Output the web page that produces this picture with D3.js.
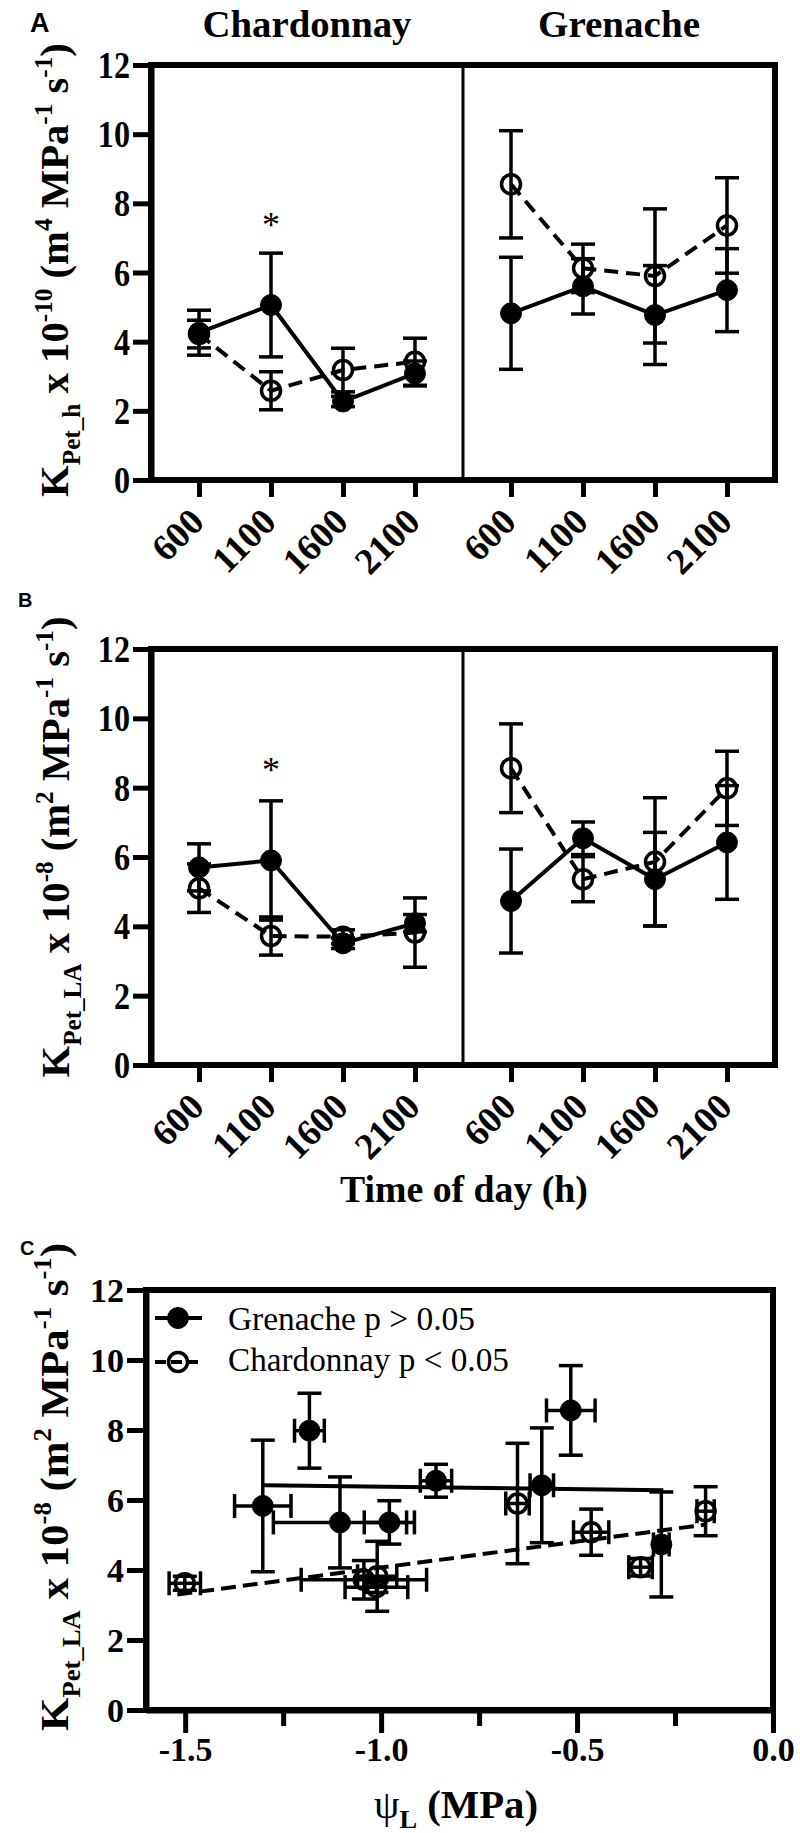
<!DOCTYPE html>
<html><head><meta charset="utf-8">
<script src="https://cdn.jsdelivr.net/npm/d3@7"></script>
<style>body{margin:0;background:#fff} svg{display:block}</style>
</head><body>
<svg id="chart" width="800" height="1833"></svg>
<script>
// ---------------- DATA ----------------
const times = ["600", "1100", "1600", "2100"];
const cultivars = ["Chardonnay", "Grenache"];
const yTickValues = [0, 2, 4, 6, 8, 10, 12];
const psiMajorTicks = [-1.5, -1.0, -0.5, 0.0];
const psiMinorTicks = [-1.25, -0.75, -0.25];

// Panel A : K_Pet_h x 1e-10
const aChardFilled = [4.26, 5.06, 2.27, 3.08];
const aChardFilledErr = [0.65, 1.5, 0.15, 0.36];
const aChardOpen = [4.22, 2.58, 3.18, 3.42];
const aChardOpenErr = [0.4, 0.55, 0.63, 0.68];
const aGrenFilled = [4.82, 5.6, 4.77, 5.49];
const aGrenFilledErr = [1.62, 0.8, 1.43, 1.2];
const aGrenOpen = [8.55, 6.12, 5.9, 7.36];
const aGrenOpenErr = [1.55, 0.7, 1.94, 1.38];

// Panel B : K_Pet_LA x 1e-8
const bChardFilled = [5.7, 5.9, 3.51, 4.09];
const bChardFilledErr = [0.68, 1.72, 0.15, 0.25];
const bChardOpen = [5.1, 3.72, 3.7, 3.82];
const bChardOpenErr = [0.7, 0.55, 0.2, 1.0];
const bGrenFilled = [4.73, 6.54, 5.36, 6.42];
const bGrenFilledErr = [1.5, 0.47, 1.35, 1.64];
const bGrenOpen = [8.56, 5.36, 5.86, 7.98];
const bGrenOpenErr = [1.28, 0.65, 1.85, 1.07];

// significance markers (cultivar, time, value)
const starA = ["Chardonnay", "1100", 7.52];
const starB = ["Chardonnay", "1100", 8.65];

// Panel C : K_Pet_LA vs leaf water potential
const cGrenPsi = [-1.183, -1.302, -1.105, -0.979, -0.86, -0.59, -0.516, -0.285];
const cGrenPsiErr = [0.038, 0.072, 0.17, 0.064, 0.04, 0.03, 0.062, 0.02];
const cGrenK = [7.98, 5.83, 5.36, 5.36, 6.55, 6.42, 8.56, 4.73];
const cGrenKErr = [1.07, 1.88, 1.3, 0.62, 0.47, 1.64, 1.28, 1.5];
const cChardPsi = [-1.501, -1.044, -1.01, -1.012, -0.652, -0.464, -0.338, -0.172];
const cChardPsiErr = [0.04, 0.16, 0.05, 0.08, 0.03, 0.045, 0.03, 0.022];
const cChardK = [3.62, 3.72, 3.82, 3.51, 5.9, 5.08, 4.08, 5.68];
const cChardKErr = [0.2, 0.55, 1.0, 0.15, 1.72, 0.66, 0.25, 0.7];
// regression lines
const grenFitPsi = [-1.30, -0.28];
const grenFitK = [6.42, 6.28];
const chardFitPsi = [-1.52, -0.17];
const chardFitK = [3.3, 5.3];
const legendLabels = ["Grenache p > 0.05", "Chardonnay p < 0.05"];

// ---------------- DRAWING ----------------
const SERIF = '"Liberation Serif","Times New Roman",serif';
const SANS = '"Liberation Sans",Arial,sans-serif';
const svg = d3.select('#chart');
svg.append('rect').attr('width', 800).attr('height', 1833).attr('fill', '#fff');

const L = 151, MID = 463, R = 775;
const LW = 4, EBW = 3.5, CAP = 12, RAD = 10.5;

function richText(g, parts, size) {
  const t = g.append('text').attr('font-family', SERIF).attr('font-weight', 'bold')
    .attr('font-size', size).attr('text-anchor', 'middle').attr('fill', '#000');
  let shift = 0;
  parts.forEach(p => {
    const target = p.sub ? size * 0.3 : p.sup ? -size * 0.42 : 0;
    const ts = t.append('tspan').text(p.t).attr('dy', target - shift);
    if (p.sub || p.sup) ts.attr('font-size', size * 0.62);
    shift = target;
  });
  return t;
}
function verticalLabel(g, parts, size, bx, cy, len) {
  const t = richText(g, parts, size);
  const n = t.node().getComputedTextLength();
  t.attr('transform', `translate(${bx},${cy}) rotate(-90) scale(${len / n},1)`);
}
function fitText(g, str, x, y, size, width, opts = {}) {
  const t = g.append('text').text(str).attr('font-family', opts.family || SERIF)
    .attr('font-weight', opts.weight || 'bold').attr('font-size', size)
    .attr('text-anchor', 'middle').attr('fill', '#000');
  const n = t.node().getComputedTextLength();
  t.attr('transform', `translate(${x},${y}) scale(${width / n},1)`);
  return t;
}

const labelLA = [{t: 'K'}, {t: 'Pet_h', sub: 1}, {t: ' x 10'}, {t: '-10', sup: 1}, {t: ' (m'}, {t: '4', sup: 1},
  {t: ' MPa'}, {t: '-1', sup: 1}, {t: ' s'}, {t: '-1', sup: 1}, {t: ')'}];
const labelLB = [{t: 'K'}, {t: 'Pet_LA', sub: 1}, {t: ' x 10'}, {t: '-8', sup: 1}, {t: ' (m'}, {t: '2', sup: 1},
  {t: ' MPa'}, {t: '-1', sup: 1}, {t: ' s'}, {t: '-1', sup: 1}, {t: ')'}];

function errV(g, x, y, v, e) {
  g.append('line').attr('x1', x).attr('x2', x).attr('y1', y(v - e)).attr('y2', y(v + e))
    .attr('stroke', '#000').attr('stroke-width', EBW);
  [v - e, v + e].forEach(w => g.append('line').attr('x1', x - CAP).attr('x2', x + CAP)
    .attr('y1', y(w)).attr('y2', y(w)).attr('stroke', '#000').attr('stroke-width', EBW));
}
function errH(g, xs, yy, v, e) {
  g.append('line').attr('x1', xs(v - e)).attr('x2', xs(v + e)).attr('y1', yy).attr('y2', yy)
    .attr('stroke', '#000').attr('stroke-width', EBW);
  [v - e, v + e].forEach(w => g.append('line').attr('x1', xs(w)).attr('x2', xs(w))
    .attr('y1', yy - CAP).attr('y2', yy + CAP).attr('stroke', '#000').attr('stroke-width', EBW));
}
function dot(g, x, y, filled) {
  g.append('circle').attr('cx', x).attr('cy', y).attr('r', filled ? RAD : 9.5)
    .attr('fill', filled ? '#000' : 'none').attr('stroke', '#000').attr('stroke-width', filled ? 1 : 3.5);
}

function timePanel(cfg) {
  const g = svg.append('g');
  const y = d3.scaleLinear().domain([0, 12]).range([cfg.bottom, cfg.top]);
  const xs = {};
  xs.Chardonnay = d3.scalePoint().domain(times).range([L, MID]).padding(0.667);
  xs.Grenache = d3.scalePoint().domain(times).range([MID, R]).padding(0.667);

  g.append('rect').attr('x', L).attr('y', cfg.top).attr('width', R - L).attr('height', cfg.bottom - cfg.top)
    .attr('fill', 'none').attr('stroke', '#000').attr('stroke-width', 6);
  g.append('line').attr('x1', MID).attr('x2', MID).attr('y1', cfg.top).attr('y2', cfg.bottom)
    .attr('stroke', '#000').attr('stroke-width', 3);

  const ya = g.append('g').attr('transform', `translate(${L},0)`)
    .call(d3.axisLeft(y).tickValues(yTickValues).tickSize(18).tickSizeOuter(0).tickFormat(d3.format('d')));
  ya.select('.domain').attr('stroke-width', 6);
  ya.selectAll('.tick line').attr('stroke-width', 5);
  ya.selectAll('.tick text').attr('font-family', SERIF).attr('font-weight', 'bold').attr('font-size', 37)
    .attr('fill', '#000').attr('x', -21 / 0.87).attr('dy', '0.34em').attr('transform', 'scale(0.87,1)');

  cultivars.forEach(c => {
    const xa = g.append('g').attr('transform', `translate(0,${cfg.bottom})`)
      .call(d3.axisBottom(xs[c]).tickSize(17).tickSizeOuter(0));
    xa.select('.domain').remove();
    xa.selectAll('.tick line').attr('stroke-width', 5);
    xa.selectAll('.tick text').remove();
    times.forEach(t => {
      g.append('text').text(t).attr('font-family', SERIF).attr('font-weight', 'bold').attr('font-size', 37)
        .attr('text-anchor', 'end').attr('fill', '#000')
        .attr('transform', `translate(${xs[c](t) + 7},${cfg.bottom + 44}) rotate(-45)`);
    });
  });

  cultivars.forEach(c => {
    const x = xs[c];
    const d = cfg.data[c];
    const lineGen = d3.line().x((v, i) => x(times[i])).y(v => y(v));
    d.open.forEach((v, i) => errV(g, x(times[i]), y, v, d.openErr[i]));
    d.filled.forEach((v, i) => errV(g, x(times[i]), y, v, d.filledErr[i]));
    g.append('path').attr('d', lineGen(d.open)).attr('fill', 'none').attr('stroke', '#000')
      .attr('stroke-width', LW).attr('stroke-dasharray', '14,8');
    g.append('path').attr('d', lineGen(d.filled)).attr('fill', 'none').attr('stroke', '#000')
      .attr('stroke-width', LW);
    d.open.forEach((v, i) => dot(g, x(times[i]), y(v), false));
    d.filled.forEach((v, i) => dot(g, x(times[i]), y(v), true));
  });

  const st = cfg.star;
  g.append('text').text('*').attr('x', xs[st[0]](st[1])).attr('y', y(st[2]) + 17)
    .attr('text-anchor', 'middle').attr('font-family', SERIF).attr('font-size', 36).attr('fill', '#000');

  verticalLabel(g, cfg.ylabel, 39, cfg.labelX, cfg.labelCY, cfg.labelLen);
  g.append('text').text(cfg.letter).attr('x', cfg.letterX).attr('y', cfg.letterY)
    .attr('font-family', SANS).attr('font-weight', 'bold').attr('font-size', cfg.letterSize).attr('fill', '#000');
}

timePanel({
  top: 65, bottom: 480, star: starA, ylabel: labelLA, labelX: 68, labelCY: 270, labelLen: 454,
  letter: 'A', letterX: 30, letterY: 32, letterSize: 27,
  data: {
    Chardonnay: {filled: aChardFilled, filledErr: aChardFilledErr, open: aChardOpen, openErr: aChardOpenErr},
    Grenache: {filled: aGrenFilled, filledErr: aGrenFilledErr, open: aGrenOpen, openErr: aGrenOpenErr}
  }
});
timePanel({
  top: 649, bottom: 1065, star: starB, ylabel: labelLB, labelX: 69, labelCY: 847, labelLen: 461,
  letter: 'B', letterX: 18, letterY: 607, letterSize: 20,
  data: {
    Chardonnay: {filled: bChardFilled, filledErr: bChardFilledErr, open: bChardOpen, openErr: bChardOpenErr},
    Grenache: {filled: bGrenFilled, filledErr: bGrenFilledErr, open: bGrenOpen, openErr: bGrenOpenErr}
  }
});

// titles
fitText(svg, cultivars[0], (L + MID) / 2, 37, 37, 209);
fitText(svg, cultivars[1], (MID + R) / 2, 37, 37, 162);
fitText(svg, 'Time of day (h)', 464, 1202, 37, 248);

// ---------------- PANEL C ----------------
(function () {
  const g = svg.append('g');
  const CL = 146, CR = 773, CT = 1290, CB = 1710;
  const x = d3.scaleLinear().domain([-1.6, 0]).range([CL, CR]);
  const y = d3.scaleLinear().domain([0, 12]).range([CB, CT]);

  g.append('rect').attr('x', CL).attr('y', CT).attr('width', CR - CL).attr('height', CB - CT)
    .attr('fill', 'none').attr('stroke', '#000').attr('stroke-width', 6);

  const ya = g.append('g').attr('transform', `translate(${CL},0)`)
    .call(d3.axisLeft(y).tickValues(yTickValues).tickSize(19).tickSizeOuter(0).tickFormat(d3.format('d')));
  ya.select('.domain').attr('stroke-width', 6);
  ya.selectAll('.tick line').attr('stroke-width', 5);
  ya.selectAll('.tick text').attr('font-family', SERIF).attr('font-weight', 'bold').attr('font-size', 34)
    .attr('fill', '#000').attr('x', -22).attr('dy', '0.34em');

  const xa = g.append('g').attr('transform', `translate(0,${CB})`)
    .call(d3.axisBottom(x).tickValues(psiMajorTicks).tickSize(23).tickSizeOuter(0).tickFormat(d => d.toFixed(1)));
  xa.select('.domain').attr('stroke-width', 6);
  xa.selectAll('.tick line').attr('stroke-width', 5);
  xa.selectAll('.tick text').attr('font-family', SERIF).attr('font-weight', 'bold').attr('font-size', 34)
    .attr('fill', '#000').attr('y', 0).attr('dy', 0).attr('transform', 'translate(0,51)');
  const xm = g.append('g').attr('transform', `translate(0,${CB})`)
    .call(d3.axisBottom(x).tickValues(psiMinorTicks).tickSize(16).tickSizeOuter(0).tickFormat(''));
  xm.select('.domain').remove();
  xm.selectAll('.tick line').attr('stroke-width', 5);

  cChardK.forEach((v, i) => { errV(g, x(cChardPsi[i]), y, v, cChardKErr[i]); errH(g, x, y(v), cChardPsi[i], cChardPsiErr[i]); });
  cGrenK.forEach((v, i) => { errV(g, x(cGrenPsi[i]), y, v, cGrenKErr[i]); errH(g, x, y(v), cGrenPsi[i], cGrenPsiErr[i]); });
  const fit = d3.line().x(d => x(d[0])).y(d => y(d[1]));
  g.append('path').attr('d', fit(grenFitPsi.map((p, i) => [p, grenFitK[i]]))).attr('fill', 'none')
    .attr('stroke', '#000').attr('stroke-width', LW);
  g.append('path').attr('d', fit(chardFitPsi.map((p, i) => [p, chardFitK[i]]))).attr('fill', 'none')
    .attr('stroke', '#000').attr('stroke-width', LW).attr('stroke-dasharray', '15,7');
  cChardK.forEach((v, i) => dot(g, x(cChardPsi[i]), y(v), false));
  cGrenK.forEach((v, i) => dot(g, x(cGrenPsi[i]), y(v), true));

  // legend
  const ly = [1318, 1362];
  g.append('line').attr('x1', 155).attr('x2', 202).attr('y1', ly[0]).attr('y2', ly[0])
    .attr('stroke', '#000').attr('stroke-width', LW);
  dot(g, 178, ly[0], true);
  g.append('line').attr('x1', 155).attr('x2', 202).attr('y1', ly[1]).attr('y2', ly[1])
    .attr('stroke', '#000').attr('stroke-width', LW).attr('stroke-dasharray', '11,5');
  dot(g, 178, ly[1], false);
  const lt0 = g.append('text').text(legendLabels[0]).attr('font-family', SERIF).attr('font-size', 34).attr('fill', '#000');
  const n0 = lt0.node().getComputedTextLength();
  lt0.attr('transform', `translate(228,1330) scale(${247 / n0},1)`);
  const lt1 = g.append('text').text(legendLabels[1]).attr('font-family', SERIF).attr('font-size', 34).attr('fill', '#000');
  const n1 = lt1.node().getComputedTextLength();
  lt1.attr('transform', `translate(228,1371) scale(${281 / n1},1)`);

  verticalLabel(g, labelLB, 40, 68, 1487, 488);
  g.append('text').text('C').attr('x', 20).attr('y', 1255)
    .attr('font-family', SANS).attr('font-weight', 'bold').attr('font-size', 20).attr('fill', '#000');

  const xt = g.append('text').attr('font-family', SERIF).attr('font-weight', 'bold').attr('font-size', 40)
    .attr('text-anchor', 'middle').attr('fill', '#000');
  xt.append('tspan').text('ψ').attr('font-weight', 'normal');
  xt.append('tspan').text('L').attr('font-size', 26).attr('dy', 10);
  xt.append('tspan').text(' (MPa)').attr('dy', -10);
  const nx = xt.node().getComputedTextLength();
  xt.attr('transform', `translate(456,1818) scale(${164 / nx},1)`);
})();
</script>
</body></html>
